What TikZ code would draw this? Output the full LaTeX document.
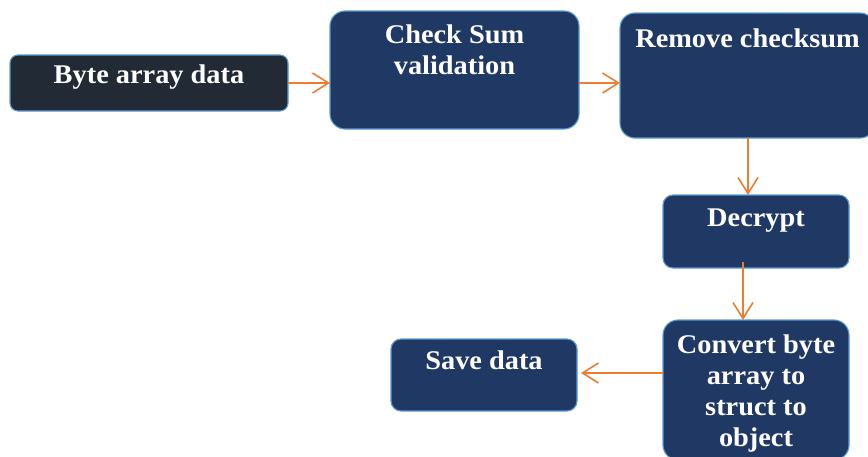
\documentclass[tikz,border=0pt]{standalone}
\usepackage{fontspec}
\setmainfont{Liberation Serif}[FakeStretch=1.05]
\usetikzlibrary{arrows.meta}
\definecolor{navy}{HTML}{1F3864}
\definecolor{slate}{HTML}{222A35}
\definecolor{rim}{HTML}{5B9BD5}
\definecolor{flow}{HTML}{ED7D31}

% box text: width, height, top padding, text (top aligned, centred)
\newcommand\stagetext[4]{\parbox[c][#2][t]{#1}{\vspace*{#3}\centering\strut #4\par}}

\tikzset{
  stage/.style={draw=rim, line width=1.1pt, fill=navy, rounded corners=10pt,
    inner sep=0pt, outer sep=0pt, anchor=north west, text=white,
    font=\fontsize{27}{31}\selectfont\bfseries},
  link/.style={draw=flow, line width=1.6pt, -{Straight Barb[length=16pt,width=20pt]}}
}

\begin{document}
\begin{tikzpicture}[x=1pt,y=-1pt]
\useasboundingbox (0,0) rectangle (868,456);
\clip (0,0) rectangle (868,456);

\node[stage, fill=slate, rounded corners=8pt] (src) at (10,55)
  {\stagetext{278pt}{56pt}{6.3pt}{Byte array data}};
\node[stage, rounded corners=15pt] (chk) at (330,11)
  {\stagetext{249pt}{118pt}{10.3pt}{Check Sum\\validation}};
\node[stage, rounded corners=15pt] (rmv) at (620,13)
  {\stagetext{255pt}{125pt}{12.3pt}{Remove checksum}};
\node[stage] (dec) at (663,195)
  {\stagetext{186pt}{73pt}{9.3pt}{Decrypt}};
\node[stage, rounded corners=15pt] (cnv) at (663,320)
  {\stagetext{186pt}{140pt}{11.3pt}{Convert byte\\array to\\struct to\\object}};
\node[stage] (sav) at (391,339)
  {\stagetext{186pt}{72pt}{8.3pt}{Save data}};

\draw[link] (src.east) -- (chk.west |- src.east);
\draw[link] (chk.east |- src.east) -- (rmv.west |- src.east);
\draw[link] ([xshift=0.5pt]rmv.south) -- ([xshift=0.5pt]rmv.south |- dec.north);
\draw[link] ([xshift=-13pt,yshift=6pt]dec.south) -- ([xshift=-13pt]cnv.north);
\draw[link] ([yshift=2pt]cnv.west |- sav.east) -- ([shift={(4pt,2pt)}]sav.east);
\end{tikzpicture}
\end{document}
